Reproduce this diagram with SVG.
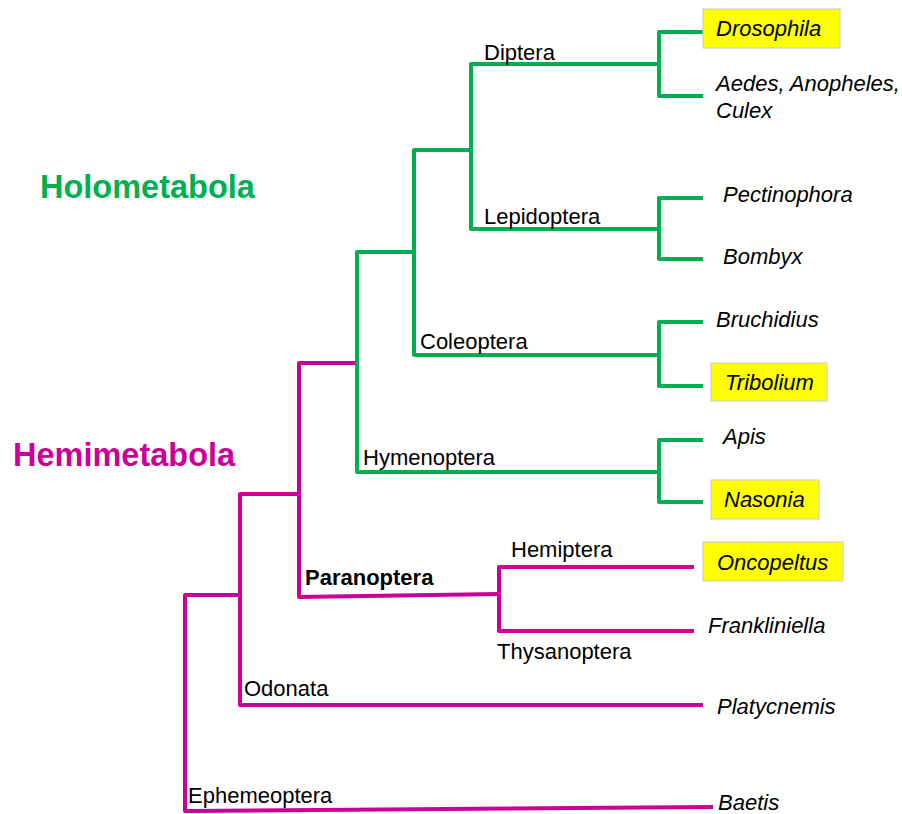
<svg xmlns="http://www.w3.org/2000/svg" width="902" height="814" viewBox="0 0 902 814">
<style>
.g{fill:none;stroke:#00B050;stroke-width:4;stroke-linejoin:round}
.m{fill:none;stroke:#CC0099;stroke-width:4;stroke-linejoin:round}
text{font-family:"Liberation Sans",Arial,sans-serif;font-size:22px;fill:#000}
.sp{font-style:italic}
.big{font-size:32.5px;font-weight:bold}
.hl{fill:#FFFF00;stroke:#C8C8C8;stroke-width:1}
</style>
<rect width="902" height="814" fill="#fff"/>
<g id="connectors">
<path class="m" d="M357,363 H299 V597 L499,594"/>
<path class="m" d="M694,567 H499 V631 H694"/>
<path class="m" d="M299,494 H240 V705 H703"/>
<path class="m" d="M240,595 H185 V811 L713,807"/>
<path class="g" d="M703,32 H659 V96 H703"/>
<path class="g" d="M659,64 H471 V229 H659"/>
<path class="g" d="M703,198 H659 V259 H703"/>
<path class="g" d="M471,150 H414 V355 H659"/>
<path class="g" d="M703,322 H659 V386 H703"/>
<path class="g" d="M414,252 H357 V472 H659"/>
<path class="g" d="M703,440 H659 V502 H703"/>
</g>
<g id="holometabola"><text class="big" x="40" y="198" style="fill:#00B050">Holometabola</text></g>
<g id="hemimetabola"><text class="big" x="13" y="466" style="fill:#CC0099">Hemimetabola</text></g>
<g id="diptera"><text x="484" y="60">Diptera</text></g>
<g id="lepidoptera"><text x="484" y="224">Lepidoptera</text></g>
<g id="coleoptera"><text x="420" y="349">Coleoptera</text></g>
<g id="hymenoptera"><text x="363" y="465">Hymenoptera</text></g>
<g id="paranoptera"><text x="305" y="585" font-weight="bold">Paranoptera</text></g>
<g id="hemiptera"><text x="511" y="557">Hemiptera</text></g>
<g id="thysanoptera"><text x="497" y="659">Thysanoptera</text></g>
<g id="odonata"><text x="244" y="696">Odonata</text></g>
<g id="ephemeoptera"><text x="188" y="803">Ephemeoptera</text></g>
<g id="drosophila"><rect class="hl" x="703" y="9" width="137" height="39"/><text class="sp" x="716" y="36">Drosophila</text></g>
<g id="aedes"><text class="sp" x="716" y="91">Aedes, Anopheles,</text><text class="sp" x="716" y="118">Culex</text></g>
<g id="pectinophora"><text class="sp" x="723" y="202">Pectinophora</text></g>
<g id="bombyx"><text class="sp" x="723" y="264">Bombyx</text></g>
<g id="bruchidius"><text class="sp" x="716" y="327">Bruchidius</text></g>
<g id="tribolium"><rect class="hl" x="711" y="363" width="116" height="38"/><text class="sp" x="725" y="390">Tribolium</text></g>
<g id="apis"><text class="sp" x="723" y="444">Apis</text></g>
<g id="nasonia"><rect class="hl" x="711" y="480" width="108" height="39"/><text class="sp" x="724" y="507">Nasonia</text></g>
<g id="oncopeltus"><rect class="hl" x="703" y="542" width="140" height="39"/><text class="sp" x="717" y="570">Oncopeltus</text></g>
<g id="frankliniella"><text class="sp" x="708" y="633">Frankliniella</text></g>
<g id="platycnemis"><text class="sp" x="717" y="714">Platycnemis</text></g>
<g id="baetis"><text class="sp" x="718" y="810">Baetis</text></g>
</svg>
